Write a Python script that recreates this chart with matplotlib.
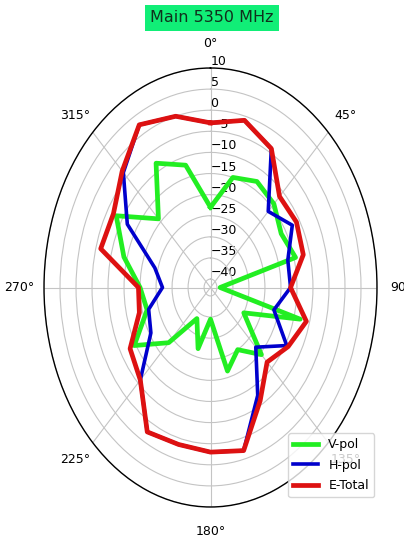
import numpy as np
from matplotlib import pyplot as plt

# angulos de medida (grados) y niveles en dB
angulos = list(range(0, 360, 15))
v_pol = [-23, -15, -13, -14, -16.5, -14.5, -39, -13, -30, -19.5, -25, -21.5,
         -34.5, -27, -33.5, -23.5, -14.5, -21.5, -20, -14, -8, -19, -8, -12]
h_pol = [-3, -1, -4, -16.5, -12.5, -17, -17, -21.5, -14.5, -22, -12.5, -2,
         -3, -3.5, -2.5, -11, -20.5, -22, -27, -24, -12, -3.5, 2.5, 0]
e_total = [-3, -1, -4, -11.5, -11, -12, -17, -11, -14, -17, -11, -2,
           -3, -3.5, -2.5, -11, -13, -19, -19.5, -6.5, -7, -3, 2.5, 0]

titulo = 'Main 5350 MHz'
etiquetas = ['0°', '45°', '90°', '135°', '180°', '225°', '270°', '315°']


def cerrar(lista):
    return lista + lista[:1]


theta = np.deg2rad(cerrar(angulos))

fig = plt.figure(figsize=(4.04, 5.39), dpi=100)
ax = fig.add_axes([44 / 404, 1 - 507 / 539, 333 / 404, 439 / 539], projection='polar')
ax.set_aspect('auto')
ax.set_theta_zero_location('N')
ax.set_theta_direction(-1)

ax.plot(theta, cerrar(v_pol), color='#22ee22', lw=3.4, label='V-pol')
ax.plot(theta, cerrar(h_pol), color='#0000cc', lw=2.6, label='H-pol')
ax.plot(theta, cerrar(e_total), color='#dd1111', lw=3.4, label='E-Total')

ax.set_ylim(-42, 10)
ax.set_yticks(range(-40, 11, 5))
ax.set_rlabel_position(0)
ax.set_thetagrids(range(0, 360, 45), etiquetas)
ax.tick_params(axis='x', labelsize=9, pad=7)
ax.tick_params(axis='y', labelsize=9)
ax.grid(True, color='#c4c4c4', lw=0.8)
ax.spines['polar'].set_linewidth(1.0)

ax.legend(loc='lower right', bbox_to_anchor=(374 / 404, 1 - 497 / 539),
          bbox_transform=fig.transFigure, borderaxespad=0, fontsize=9,
          handlelength=2.0, labelspacing=0.6)

fig.text(212 / 404, 1 - 18 / 539, titulo, ha='center', va='center', fontsize=11.5,
         color='#10301c',
         bbox=dict(boxstyle='square,pad=0.35', facecolor='#11ee77', edgecolor='none'))

fig.savefig('out.png', dpi=100)
